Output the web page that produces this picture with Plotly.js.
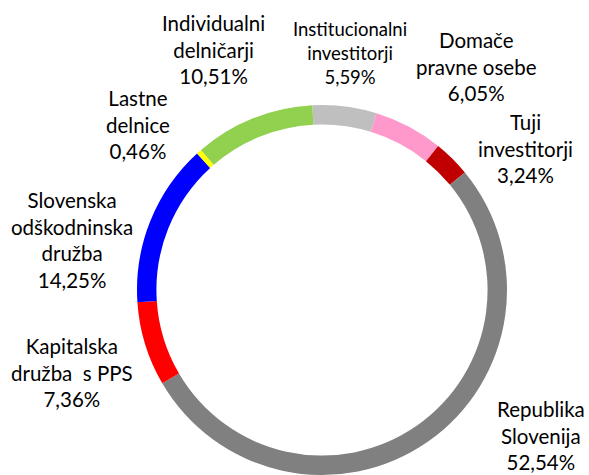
<!DOCTYPE html>
<html>
<head>
<meta charset="utf-8">
<script src="https://cdn.plot.ly/plotly-3.0.1.min.js"></script>
<style>html,body{margin:0;padding:0;background:#fff;}#chart{width:589px;height:475px;}</style>
</head>
<body>
<div id="chart"></div>
<script>
// Data (clockwise order, starting near 12 o'clock)
var categories = [
  "Institucionalni investitorji",
  "Domače pravne osebe",
  "Tuji investitorji",
  "Republika Slovenija",
  "Kapitalska družba s PPS",
  "Slovenska odškodninska družba",
  "Lastne delnice",
  "Individualni delničarji"
];
var labelLines = [
  "Institucionalni<br>investitorji",
  "Domače<br>pravne osebe",
  "Tuji<br>investitorji",
  "Republika<br>Slovenija",
  "Kapitalska<br>družba  s PPS",
  "Slovenska<br>odškodninska<br>družba",
  "Lastne<br>delnice",
  "Individualni<br>delničarji"
];
var shares = [5.59, 6.05, 3.24, 52.54, 7.36, 14.25, 0.46, 10.51];

// Styles and label positions (kept separate from data)
var colors = ["#BFBFBF", "#FF99CC", "#C00000", "#808080", "#FF0000", "#0000FF", "#FFFF00", "#92D050"];
var labelPos = [
  [350, 53, 18.5],
  [476, 67, 20.5],
  [525, 148, 20.5],
  [541, 435, 20.5],
  [72, 372, 20.5],
  [72, 240, 20.5],
  [138, 125, 20.5],
  [213, 49, 20.5]
];

var W = 589, H = 475;
var cx = 322, cy = 290, R = 185;

var annotations = categories.map(function(c, i) {
  var p = labelPos[i];
  return {
    xref: 'paper', yref: 'paper',
    x: p[0] / W, y: 1 - p[1] / H,
    xanchor: 'center', yanchor: 'middle',
    showarrow: false,
    align: 'center',
    text: labelLines[i] + '<br>' + shares[i].toFixed(2).replace('.', ',') + '%',
    font: {family: 'Lato, "Open Sans", sans-serif', size: p[2], color: '#000'}
  };
});

var trace = {
  type: 'pie',
  labels: categories,
  values: shares,
  sort: false,
  direction: 'clockwise',
  rotation: -3,
  hole: 0.895,
  textinfo: 'none',
  hoverinfo: 'label+percent',
  marker: {colors: colors, line: {width: 0}},
  domain: {x: [(cx - R) / W, (cx + R) / W], y: [1 - (cy + R) / H, 1 - (cy - R) / H]},
  showlegend: false
};

var layout = {
  width: W, height: H,
  margin: {l: 0, r: 0, t: 0, b: 0},
  paper_bgcolor: '#fff',
  plot_bgcolor: '#fff',
  showlegend: false,
  annotations: annotations
};

Plotly.newPlot('chart', [trace], layout, {displayModeBar: false, staticPlot: true});
</script>
</body>
</html>
